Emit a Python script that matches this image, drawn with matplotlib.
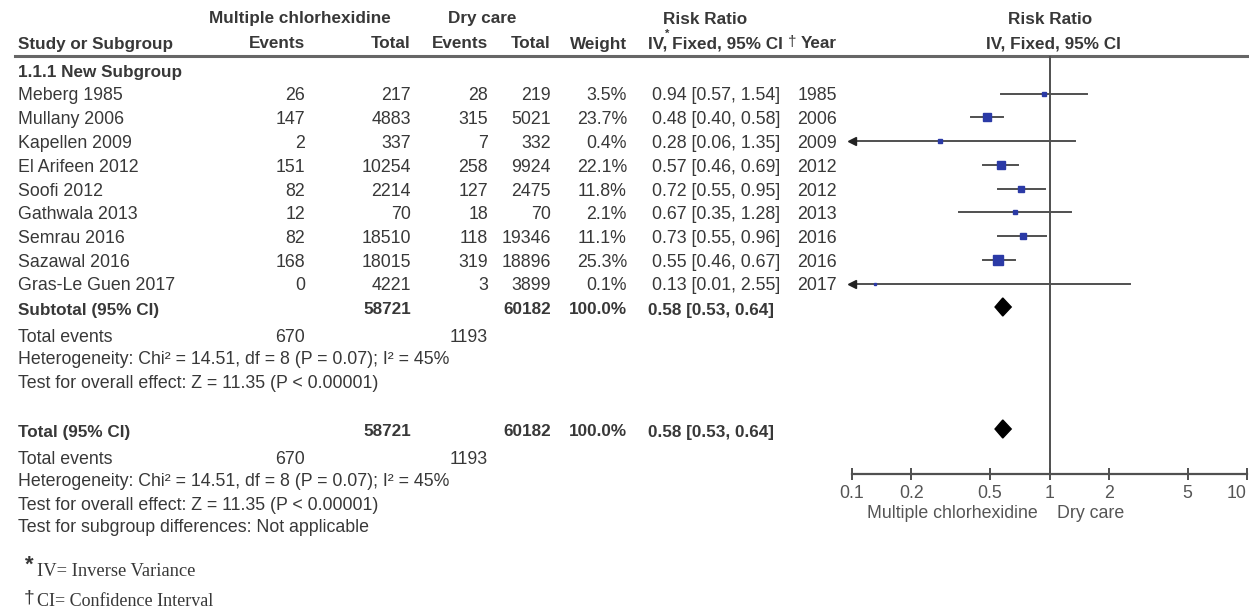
import numpy as np
import matplotlib.pyplot as plt

# study rows
studies = ["Meberg 1985", "Mullany 2006", "Kapellen 2009", "El Arifeen 2012", "Soofi 2012",
           "Gathwala 2013", "Semrau 2016", "Sazawal 2016", "Gras-Le Guen 2017"]
ev_chx = [26, 147, 2, 151, 82, 12, 82, 168, 0]
tot_chx = [217, 4883, 337, 10254, 2214, 70, 18510, 18015, 4221]
ev_dry = [28, 315, 7, 258, 127, 18, 118, 319, 3]
tot_dry = [219, 5021, 332, 9924, 2475, 70, 19346, 18896, 3899]
weight = [3.5, 23.7, 0.4, 22.1, 11.8, 2.1, 11.1, 25.3, 0.1]
rr = [0.94, 0.48, 0.28, 0.57, 0.72, 0.67, 0.73, 0.55, 0.13]
rr_lo = [0.57, 0.40, 0.06, 0.46, 0.55, 0.35, 0.55, 0.46, 0.01]
rr_hi = [1.54, 0.58, 1.35, 0.69, 0.95, 1.28, 0.96, 0.67, 2.55]
years = [1985, 2006, 2009, 2012, 2012, 2013, 2016, 2016, 2017]

# pooled
sum_tot_chx = 58721
sum_tot_dry = 60182
sum_ev_chx = 670
sum_ev_dry = 1193
pool_rr, pool_lo, pool_hi = 0.58, 0.53, 0.64
ticks = [0.1, 0.2, 0.5, 1, 2, 5, 10]
tick_labels = ["0.1", "0.2", "0.5", "1", "2", "5", "10"]

plt.rcParams['font.family'] = ['Liberation Sans', 'DejaVu Sans']
TXT = '#383838'
GREY = '#505050'
FS = 12.8     # regular text
FSB = 12.3    # bold text

fig = plt.figure(figsize=(12.49, 6.12), dpi=100)
tx = fig.add_axes([0, 0, 1, 1])
tx.set_xlim(0, 1249)
tx.set_ylim(612, 0)
tx.axis('off')


def put(x, y, s, ha='left', bold=False, size=None, color=TXT, **kw):
    if size is None:
        size = FSB if bold else FS
    tx.text(x, y, s, ha=ha, va='center', fontsize=size, color=color,
            fontweight='bold' if bold else 'normal', **kw)


# column positions
X_NAME, X_EVC, X_TOTC, X_EVD, X_TOTD, X_W, X_RR, X_YR = 18, 305, 411, 488, 551, 627, 652, 837

# headers
put(300, 19, "Multiple chlorhexidine", ha='center', bold=True)
put(482, 19, "Dry care", ha='center', bold=True)
put(705, 19, "Risk Ratio", ha='center', bold=True)
put(1050, 19, "Risk Ratio", ha='center', bold=True)
put(X_NAME, 44, "Study or Subgroup", bold=True)
put(X_EVC, 44, "Events", ha='right', bold=True)
put(X_TOTC, 44, "Total", ha='right', bold=True)
put(X_EVD, 44, "Events", ha='right', bold=True)
put(X_TOTD, 44, "Total", ha='right', bold=True)
put(X_W, 44, "Weight", ha='right', bold=True)
put(648, 44, "IV, Fixed, 95% CI", bold=True)
put(667, 34, "*", ha='center', bold=True, size=8)
put(792, 42, "\u2020", ha='center', size=11)
put(X_YR, 44, "Year", ha='right', bold=True)
put(1053, 44, "IV, Fixed, 95% CI", ha='center', bold=True)
tx.plot([15, 1249], [56, 56], color='#666666', lw=2.2)

put(X_NAME, 72, "1.1.1 New Subgroup", bold=True)

row_y = [96 + 23.75 * i for i in range(len(studies))]
for i, y in enumerate(row_y):
    put(X_NAME, y, studies[i])
    put(X_EVC, y, str(ev_chx[i]), ha='right')
    put(X_TOTC, y, str(tot_chx[i]), ha='right')
    put(X_EVD, y, str(ev_dry[i]), ha='right')
    put(X_TOTD, y, str(tot_dry[i]), ha='right')
    put(X_W, y, f"{weight[i]:.1f}%", ha='right')
    put(X_RR, y, f"{rr[i]:.2f} [{rr_lo[i]:.2f}, {rr_hi[i]:.2f}]")
    put(X_YR, y, str(years[i]), ha='right')

pool_txt = f"{pool_rr:.2f} [{pool_lo:.2f}, {pool_hi:.2f}]"
het = "Heterogeneity: Chi\u00b2 = 14.51, df = 8 (P = 0.07); I\u00b2 = 45%"
ztest = "Test for overall effect: Z = 11.35 (P < 0.00001)"

sub_y = 310
tot_y = 432
for yy, lab in [(sub_y, "Subtotal (95% CI)"), (tot_y, "Total (95% CI)")]:
    put(X_NAME, yy, lab, bold=True)
    put(X_TOTC, yy, str(sum_tot_chx), ha='right', bold=True)
    put(X_TOTD, yy, str(sum_tot_dry), ha='right', bold=True)
    put(X_W, yy, "100.0%", ha='right', bold=True)
    put(X_RR - 4, yy, pool_txt, bold=True)
    put(X_NAME, yy + 27, "Total events")
    put(X_EVC, yy + 27, str(sum_ev_chx), ha='right')
    put(X_EVD, yy + 27, str(sum_ev_dry), ha='right')
    put(X_NAME, yy + 50, het)
    put(X_NAME, yy + 73, ztest)
put(X_NAME, 527, "Test for subgroup differences: Not applicable")

# footnotes
put(25, 565, "*", bold=True, size=16)
put(37, 571, "IV= Inverse Variance", size=13.3, family='Liberation Serif')
put(24, 598, "\u2020", size=14)
put(37, 602, "CI= Confidence Interval", size=13, family='Liberation Serif')

# forest panel
fx = fig.add_axes([852 / 1249, (612 - 474) / 612, (1247 - 852) / 1249, (474 - 56) / 612])
fx.patch.set_alpha(0)
fx.set_xscale('log')
fx.set_xlim(0.1, 10)
fx.set_ylim(474, 56)
for s in ['left', 'right', 'top']:
    fx.spines[s].set_visible(False)
fx.spines['bottom'].set_color(GREY)
fx.spines['bottom'].set_linewidth(1.6)
fx.set_xticks(ticks)
fx.set_xticklabels(tick_labels)
fx.get_xticklabels()[-1].set_horizontalalignment('right')
fx.minorticks_off()
fx.tick_params(axis='x', direction='inout', length=8, width=1.4, color=GREY,
               labelsize=FS, labelcolor='#555555', pad=4)
fx.set_yticks([])
fx.axvline(1, color=GREY, lw=1.4)

for i, y in enumerate(row_y):
    yp = y - 2.5
    lo = max(rr_lo[i], 0.1)
    fx.plot([lo, rr_hi[i]], [yp, yp], color=GREY, lw=1.4)
    if rr_lo[i] < 0.1:
        fx.plot(0.1, yp, marker='<', ms=6, color='#222222', clip_on=False)
    px = 2.5 + 1.3 * np.sqrt(weight[i])
    fx.plot(rr[i], yp, 's', ms=px * 0.72, color='#2b3aa6', mec='#2b3aa6')

for yy in [sub_y - 3, tot_y - 3]:
    fx.fill([pool_lo, pool_rr, pool_hi, pool_rr], [yy, yy - 9, yy, yy + 9], color='black')

put(952, 514, "Multiple chlorhexidine", ha='center', color='#555555')
put(1091, 514, "Dry care", ha='center', color='#555555')

fig.savefig('out.png', dpi=100)
